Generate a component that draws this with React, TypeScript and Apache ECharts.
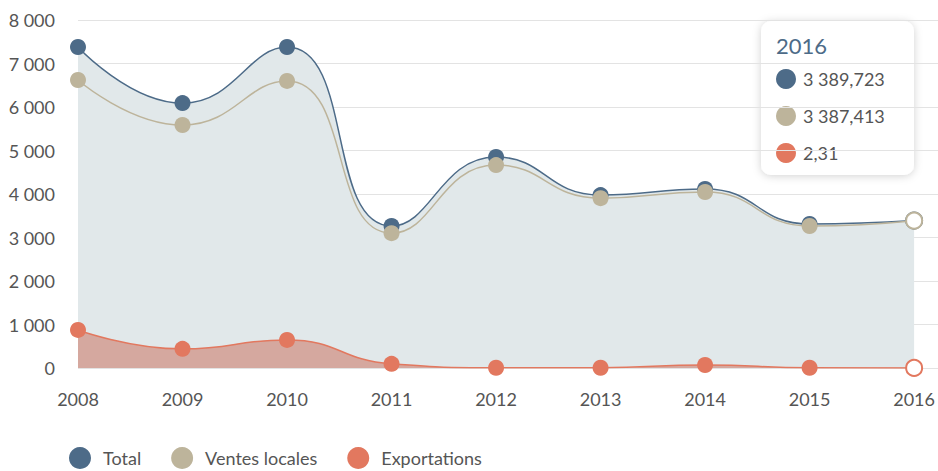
import React, { useEffect, useRef } from "react";
import * as echarts from "echarts";

const years = ["2008", "2009", "2010", "2011", "2012", "2013", "2014", "2015", "2016"];
const totalValues = [7380, 6090, 7380, 3265, 4850, 3975, 4115, 3310, 3389.723];
const localValues = [6620, 5585, 6600, 3100, 4665, 3905, 4045, 3265, 3387.413];
const exportValues = [875, 440, 645, 95, 5, 5, 70, 5, 2.31];
const seriesNames = ["Total", "Ventes locales", "Exportations"];
const colors = ["#4d6b88", "#bdb49b", "#e2785f"];

const FONT = "Lato, 'Noto Sans', sans-serif";

const fmtNum = (v: number) => {
  const [i, d] = String(v).split(".");
  const g = i.replace(/\B(?=(\d{3})+(?!\d))/g, " ");
  return d ? g + "," + d : g;
};

const withHollowLast = (vals: number[], color: string) =>
  vals.map((v, i) =>
    i === vals.length - 1
      ? { value: v, itemStyle: { color: "#fff", borderColor: color, borderWidth: 2 }, symbolSize: 16 }
      : v
  );

export default function App() {
  const ref = useRef<HTMLDivElement>(null);
  useEffect(() => {
    const chart = echarts.init(ref.current!, null, { renderer: "svg" });
    const last = years.length - 1;
    const tipRows = [totalValues[last], localValues[last], exportValues[last]];
    chart.setOption({
      animation: false,
      textStyle: { fontFamily: FONT },
      grid: [
        { left: 78, right: 22, top: 20, bottom: 103 },
        { left: 78, right: 0, top: 20, bottom: 103 },
      ],
      xAxis: [
        {
          type: "category",
          data: years,
          boundaryGap: false,
          gridIndex: 0,
          axisLine: { show: false },
          axisTick: { show: false },
          axisLabel: { color: "#555", fontSize: 18, margin: 22, fontFamily: FONT },
          splitLine: { show: false },
        },
        { type: "value", gridIndex: 1, show: false },
      ],
      yAxis: [
        {
          type: "value",
          gridIndex: 0,
          min: 0,
          max: 8000,
          interval: 1000,
          axisLine: { show: false },
          axisTick: { show: false },
          splitLine: { show: false },
          axisLabel: {
            color: "#555",
            fontSize: 18,
            margin: 23,
            fontFamily: FONT,
            formatter: (v: number) => fmtNum(v),
          },
        },
        {
          type: "value",
          gridIndex: 1,
          min: 0,
          max: 8000,
          interval: 1000,
          axisLine: { show: false },
          axisTick: { show: false },
          axisLabel: { show: false },
          splitLine: { show: true, lineStyle: { color: "#e3e3e3", width: 1 } },
        },
      ],
      legend: {
        top: 447,
        left: 69,
        padding: 0,
        icon: "circle",
        itemWidth: 22,
        itemHeight: 22,
        itemGap: 30,
        textStyle: { color: "#555", fontSize: 18, fontFamily: FONT, padding: [0, 0, 0, 7] },
        data: seriesNames,
      },
      series: [
        {
          name: seriesNames[0],
          type: "line",
          smooth: true,
          data: withHollowLast(totalValues, colors[0]),
          symbol: "circle",
          symbolSize: 16,
          itemStyle: { color: colors[0] },
          lineStyle: { color: colors[0], width: 1.5 },
          areaStyle: { color: "#e1e8ea", opacity: 1 },
          z: 2,
        },
        {
          name: seriesNames[1],
          type: "line",
          smooth: true,
          data: withHollowLast(localValues, colors[1]),
          symbol: "circle",
          symbolSize: 16,
          itemStyle: { color: colors[1] },
          lineStyle: { color: colors[1], width: 1.5 },
          z: 3,
        },
        {
          name: seriesNames[2],
          type: "line",
          smooth: true,
          data: withHollowLast(exportValues, colors[2]),
          symbol: "circle",
          symbolSize: 16,
          itemStyle: { color: colors[2] },
          lineStyle: { color: colors[2], width: 1.5 },
          areaStyle: { color: "#d5a89f", opacity: 1 },
          z: 4,
        },
      ],
      graphic: [
        {
          type: "group",
          left: 761,
          top: 21,
          children: [
            {
              type: "rect",
              shape: { x: 0, y: 0, width: 153, height: 154, r: 10 },
              style: { fill: "#fff", shadowBlur: 8, shadowColor: "rgba(0,0,0,0.18)", shadowOffsetY: 1 },
            },
            {
              type: "text",
              x: 15,
              y: 24,
              style: { text: years[last], fill: "#4d6b88", fontSize: 22, fontFamily: FONT, verticalAlign: "middle" },
            },
            ...tipRows.flatMap((v, i) => [
              {
                type: "circle",
                shape: { cx: 25, cy: 58 + i * 37, r: 10 },
                style: { fill: colors[i] },
              },
              {
                type: "text",
                x: 42,
                y: 58 + i * 37,
                style: { text: fmtNum(v), fill: "#555", fontSize: 18, fontFamily: FONT, verticalAlign: "middle" },
              },
            ]),
          ],
        },
      ],
    });
    return () => chart.dispose();
  }, []);
  return <div ref={ref} style={{ width: 938, height: 471, position: "absolute", left: 0, top: 0 }} />;
}
